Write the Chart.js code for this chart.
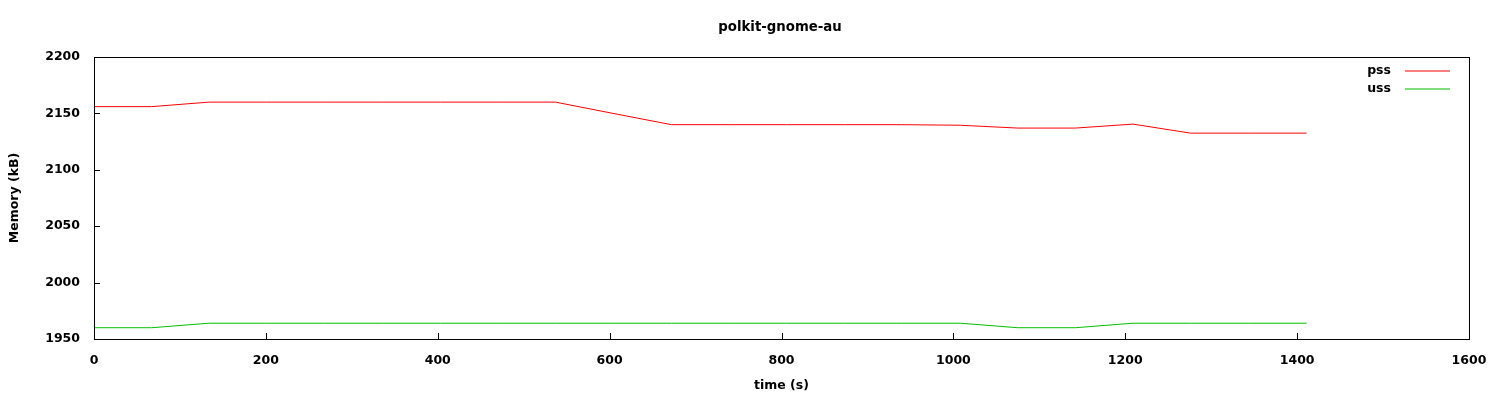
<!DOCTYPE html>
<html>
<head>
<meta charset="utf-8">
<script src="https://cdn.jsdelivr.net/npm/chart.js@4.4.1/dist/chart.umd.min.js"></script>
<style>
  body { margin: 0; background: #fff; }
  #wrap { width: 1500px; height: 400px; }
</style>
</head>
<body>
<div id="wrap"><canvas id="memChart" width="1500" height="400"></canvas></div>
<script>
// sample times in seconds
var times = [0, 67, 134, 201, 268, 336, 403, 470, 537, 604, 672, 739, 806, 873, 940, 1008, 1075, 1142, 1209, 1276, 1343, 1411];
var pss = [2156, 2156, 2160, 2160, 2160, 2160, 2160, 2160, 2160, 2150, 2140, 2140, 2140, 2140, 2140, 2139.5, 2137, 2137, 2140.5, 2132.5, 2132.5, 2132.5];
var uss = [1960, 1960, 1964, 1964, 1964, 1964, 1964, 1964, 1964, 1964, 1964, 1964, 1964, 1964, 1964, 1964, 1960, 1960, 1964, 1964, 1964, 1964];
var xTicks = [0, 200, 400, 600, 800, 1000, 1200, 1400, 1600];
var yTicks = [1950, 2000, 2050, 2100, 2150, 2200];
var chartTitle = 'polkit-gnome-au';
var lineColors = ['#ff0000', '#00c000'];

var fontFam = '"DejaVu Sans", sans-serif';

function toPoints(vals) {
    return vals.map(function (v, i) { return { x: times[i], y: v }; });
}

// gnuplot look: box border, inward ticks, title and key drawn on top
const gnuplotStyle = {
    id: 'gnuplotStyle',
    afterDraw(chart) {
        const c = chart.ctx;
        const a = chart.chartArea;
        const xs = chart.scales.x, ys = chart.scales.y;
        c.save();
        c.strokeStyle = '#000';
        c.lineWidth = 1;
        c.strokeRect(Math.round(a.left) + 0.5, Math.round(a.top) + 0.5,
            Math.round(a.right - a.left), Math.round(a.bottom - a.top));
        c.beginPath();
        xTicks.forEach(function (t) {
            var px = Math.round(xs.getPixelForValue(t)) + 0.5;
            c.moveTo(px, a.bottom);
            c.lineTo(px, a.bottom - 6);
        });
        yTicks.forEach(function (t) {
            var py = Math.round(ys.getPixelForValue(t)) + 0.5;
            c.moveTo(a.left, py);
            c.lineTo(a.left + 6, py);
        });
        c.stroke();

        // title
        c.fillStyle = '#000';
        c.font = 'bold 13.3px ' + fontFam;
        c.textAlign = 'center';
        c.textBaseline = 'middle';
        c.fillText(chartTitle, 780, 28);

        // key: label then a line sample
        c.font = 'bold 12.5px ' + fontFam;
        chart.data.datasets.forEach(function (ds, i) {
            var ky = 71 + i * 18;
            c.textAlign = 'right';
            c.fillStyle = '#000';
            c.fillText(ds.label, 1391, ky);
            c.beginPath();
            c.strokeStyle = lineColors[i];
            c.lineWidth = 1.2;
            c.moveTo(1405, ky);
            c.lineTo(1450, ky);
            c.stroke();
        });
        c.restore();
    }
};

function plainNum(v) { return String(v); }

const ctx = document.getElementById('memChart');
const memChart = new Chart(ctx, {
    type: 'line',
    data: {
        datasets: [{
            label: 'pss',
            data: toPoints(pss),
            borderColor: lineColors[0],
            borderWidth: 1,
            pointRadius: 0,
            tension: 0
        }, {
            label: 'uss',
            data: toPoints(uss),
            borderColor: lineColors[1],
            borderWidth: 1,
            pointRadius: 0,
            tension: 0
        }]
    },
    options: {
        responsive: false,
        animation: false,
        layout: { padding: { top: 57, right: 31, left: 0, bottom: 0 } },
        plugins: {
            legend: { display: false },
            title: { display: false },
            tooltip: { enabled: false }
        },
        scales: {
            x: {
                type: 'linear',
                min: 0,
                max: 1600,
                grid: { display: false },
                border: { display: false },
                afterBuildTicks: function (s) { s.ticks = xTicks.map(function (v) { return { value: v }; }); },
                afterFit: function (s) { s.height = 61; },
                ticks: {
                    color: '#000',
                    padding: 6,
                    maxRotation: 0,
                    callback: plainNum,
                    font: { family: fontFam, size: 12.5, weight: 'bold' }
                },
                title: {
                    display: true,
                    text: 'time (s)',
                    color: '#000',
                    padding: { top: 0, bottom: 7 },
                    font: { family: fontFam, size: 12.5, weight: 'bold' }
                }
            },
            y: {
                min: 1950,
                max: 2200,
                grid: { display: false },
                border: { display: false },
                afterBuildTicks: function (s) { s.ticks = yTicks.map(function (v) { return { value: v }; }); },
                afterFit: function (s) { s.width = 94; },
                ticks: {
                    color: '#000',
                    padding: 6,
                    callback: plainNum,
                    font: { family: fontFam, size: 12.5, weight: 'bold' }
                },
                title: {
                    display: true,
                    text: 'Memory (kB)',
                    color: '#000',
                    padding: { top: 7, bottom: 0 },
                    font: { family: fontFam, size: 12.5, weight: 'bold' }
                }
            }
        }
    },
    plugins: [gnuplotStyle]
});
</script>
</body>
</html>
